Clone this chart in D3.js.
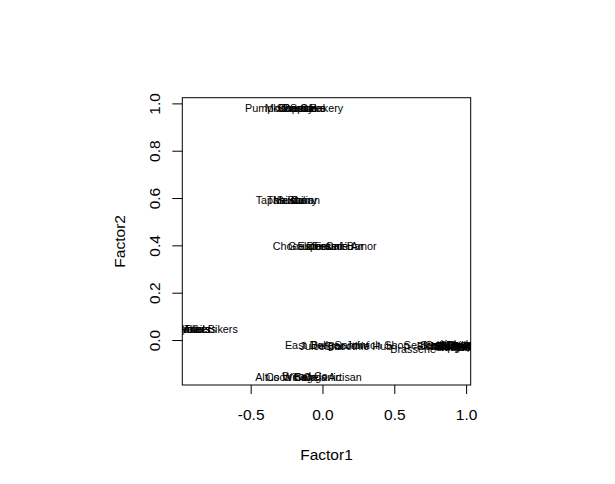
<!DOCTYPE html>
<html>
<head>
<meta charset="utf-8">
<script src="https://cdn.jsdelivr.net/npm/d3@7"></script>
<style>
  html, body { margin: 0; padding: 0; background: #ffffff; }
  svg { display: block; }
  text { font-family: "Liberation Sans", Arial, Helvetica, sans-serif; fill: #000; }
</style>
</head>
<body>
<svg id="chart" width="615" height="484"></svg>
<script>
// ---- data (factor loadings) ----
const labels = [
  "Pumpkin Spice","Mocha Cake","Pastry","Donuts","Cupcakes","Sweet Bakery",
  "Tapas Bar","Sushi","Mexican","Thai Curry","Italian",
  "Chocolate","Gourmet","Espresso","Tiramisu","Dessert Bar","Café Amor",
  "Runners","Cyclists","Hikers","Walkers","Trail Bikers",
  "East Deli","Juice Bar","Burger Joint","Smoothie Hub","Sandwich Shop","Seafood Grill","Brasserie",
  "Fish & Chips","Steakhouse","Wings","Grill House","Pizzeria","Taqueria","BBQ Pit","Kebab","Noodle Bar","Diner","Pub",
  "Altus Wine","Coca Cola","Bread Co","Bagels","Organic","Artisan"
];
const factor1 = [
  -0.289,-0.191,-0.170,-0.157,-0.143,-0.087,
  -0.296,-0.226,-0.205,-0.212,-0.118,
  -0.177,-0.094,-0.017,0.074,0.088,0.199,
  -0.922,-0.908,-0.888,-0.874,-0.776,
  -0.111,-0.003,0.122,0.247,0.345,0.783,0.631,
  0.87,0.88,0.89,0.90,0.92,0.91,0.93,0.93,0.94,0.95,0.96,
  -0.289,-0.219,-0.122,-0.087,-0.003,0.157
];
const factor2 = [
  0.980,0.979,0.981,0.978,0.980,0.979,
  0.591,0.590,0.592,0.590,0.591,
  0.397,0.398,0.396,0.397,0.398,0.397,
  0.047,0.046,0.048,0.045,0.046,
  -0.022,-0.025,-0.022,-0.025,-0.022,-0.020,-0.037,
  -0.025,-0.020,-0.028,-0.022,-0.026,-0.030,-0.024,-0.019,-0.027,-0.023,-0.029,
  -0.155,-0.156,-0.154,-0.155,-0.156,-0.155
];
const xTicks = [-0.5, 0.0, 0.5, 1.0];
const yTicks = [0.0, 0.2, 0.4, 0.6, 0.8, 1.0];
const xTitle = "Factor1";
const yTitle = "Factor2";

// ---- layout ----
const box = { left: 182.3, right: 470.7, top: 97.7, bottom: 385 };
const xDomain = [-0.976, 1.032];
const yDomain = [-0.190, 1.024];

const svg = d3.select("#chart");
const x = d3.scaleLinear().domain(xDomain).range([box.left, box.right]);
const y = d3.scaleLinear().domain(yDomain).range([box.bottom, box.top]);
const fmt = v => d3.format(".1f")(v).replace("\u2212", "-");

// clip
svg.append("defs").append("clipPath").attr("id", "plotclip")
  .append("rect")
  .attr("x", box.left).attr("y", box.top)
  .attr("width", box.right - box.left).attr("height", box.bottom - box.top);

// labels (text at points)
const rows = labels.map((l, i) => ({ label: l, f1: factor1[i], f2: factor2[i] }));
svg.append("g").attr("clip-path", "url(#plotclip)")
  .selectAll("text").data(rows).enter().append("text")
  .attr("x", d => x(d.f1))
  .attr("y", d => y(d.f2))
  .attr("dy", "0.36em")
  .attr("text-anchor", "middle")
  .style("font-size", "10.8px")
  .text(d => d.label);

// x axis
const gx = svg.append("g").attr("transform", `translate(0,${box.bottom})`)
  .call(d3.axisBottom(x).tickValues(xTicks).tickFormat(fmt).tickSize(9).tickPadding(15).tickSizeOuter(0));
gx.select(".domain").remove();
gx.selectAll("line").attr("stroke", "#000");
gx.selectAll("text").style("font-size", "15.5px");

// y axis
const gy = svg.append("g").attr("transform", `translate(${box.left},0)`)
  .call(d3.axisLeft(y).tickValues(yTicks).tickFormat(fmt).tickSize(10).tickSizeOuter(0));
gy.select(".domain").remove();
gy.selectAll("line").attr("stroke", "#000");
gy.selectAll("text")
  .attr("x", null).attr("dy", null)
  .attr("text-anchor", "middle")
  .attr("transform", "translate(-22.3,0) rotate(-90)")
  .style("font-size", "15.5px");

// box
svg.append("rect")
  .attr("x", box.left).attr("y", box.top)
  .attr("width", box.right - box.left).attr("height", box.bottom - box.top)
  .attr("fill", "none").attr("stroke", "#000").attr("stroke-width", 1);

// titles
svg.append("text")
  .attr("x", (box.left + box.right) / 2).attr("y", 460)
  .attr("text-anchor", "middle").style("font-size", "15.5px")
  .text(xTitle);
svg.append("text")
  .attr("transform", `translate(125,${(box.top + box.bottom) / 2}) rotate(-90)`)
  .attr("text-anchor", "middle").style("font-size", "15.5px")
  .text(yTitle);
</script>
</body>
</html>
